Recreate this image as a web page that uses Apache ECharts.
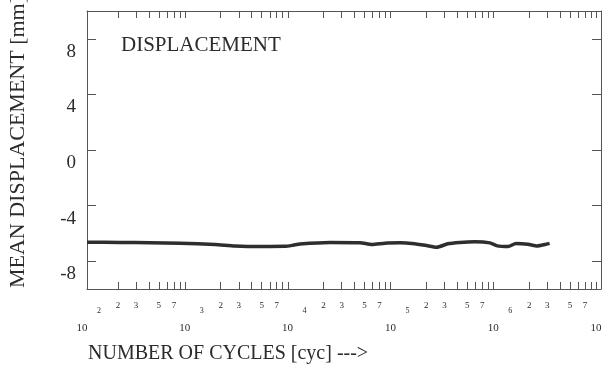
<!DOCTYPE html>
<html>
<head>
<meta charset="utf-8">
<script src="https://cdn.jsdelivr.net/npm/echarts@6/dist/echarts.min.js"></script>
<style>html,body{margin:0;padding:0;background:#fff;}#c{width:610px;height:368px;}</style>
</head>
<body>
<div id="c"></div>
<script>
// ---- data ----
const decadeExponents = [2, 3, 4, 5, 6, 7];
const minorTickDigits = [2, 3, 4, 5, 6, 7, 8, 9];
const minorLabelDigits = [2, 3, 5, 7];
const yTicks = [-8, -4, 0, 4, 8];
const cycles = [100, 209, 410, 803, 1758, 2755, 4819, 8433, 10100, 11800, 23100, 45300, 59200, 79200, 111000, 145000, 195000, 252000, 323000, 423000, 590000, 830000, 979000, 1250000, 1490000, 1950000, 2400000, 2850000, 3160000];
const meanDisp = [-6.64, -6.65, -6.67, -6.70, -6.80, -6.90, -6.94, -6.93, -6.85, -6.76, -6.65, -6.67, -6.80, -6.70, -6.68, -6.72, -6.85, -7.00, -6.75, -6.65, -6.60, -6.68, -6.90, -6.95, -6.72, -6.78, -6.90, -6.80, -6.72];
const yName = 'MEAN DISPLACEMENT [mm]';
const xName = 'NUMBER OF CYCLES [cyc] --->';
const innerTitle = 'DISPLACEMENT';

// ---- tick / label positions in exponent space ----
const tickVals = [];
decadeExponents.forEach(e => { if (e < 7) minorTickDigits.forEach(d => tickVals.push(e + Math.log10(d))); });
const labelVals = [], labelTexts = [];
decadeExponents.forEach(e => {
  labelVals.push(e);
  // the last decade's exponent falls outside the picture in the reference
  labelTexts.push(e < 7 ? '{e|' + e + '}\n{t|10}' : '{e7| }\n{t|10}');
  if (e < 7) minorLabelDigits.forEach(d => { labelVals.push(e + Math.log10(d)); labelTexts.push('{m|' + d + '}'); });
});
function labelFor(v) {
  let best = 0, bd = Infinity;
  labelVals.forEach((lv, j) => { const dd = Math.abs(lv - v); if (dd < bd) { bd = dd; best = j; } });
  return labelTexts[best];
}

const serif = 'Liberation Serif';
const ink = '#2b2b2b';
const axisCol = '#555';

const chart = echarts.init(document.getElementById('c'));
chart.setOption({
  animation: false,
  backgroundColor: '#fff',
  title: [
    { text: innerTitle, left: 116, top: 30, textStyle: { fontFamily: serif, fontSize: 21, fontWeight: 'normal', color: ink } },
    { text: xName, left: 83, top: 339, textStyle: { fontFamily: serif, fontSize: 20, fontWeight: 'normal', color: ink } }
  ],
  grid: { left: 87, right: 9, top: 11, bottom: 79, containLabel: false, outerBoundsMode: 'none' },
  xAxis: [
    { type: 'log', logBase: 10, min: 100, max: 1e7, show: false },
    {
      type: 'value', min: 2, max: 7, position: 'bottom',
      axisLine: { show: true, onZero: false, lineStyle: { color: axisCol, width: 1 } },
      axisTick: { show: true, inside: true, length: 7, customValues: tickVals, lineStyle: { color: axisCol } },
      splitLine: { show: false },
      axisLabel: {
        show: true, customValues: labelVals, margin: 11, hideOverlap: false,
        showMinLabel: true, showMaxLabel: true,
        formatter: (v) => labelFor(v),
        rich: {
          m: { fontFamily: serif, fontSize: 9, lineHeight: 12, color: ink },
          e: { fontFamily: serif, fontSize: 8, lineHeight: 22, color: ink, padding: [0, 0, 0, 24] },
          e7: { fontFamily: serif, fontSize: 8, lineHeight: 22, color: ink },
          t: { fontFamily: serif, fontSize: 11, lineHeight: 12, color: ink, padding: [0, 10, 0, 0] }
        }
      }
    },
    {
      type: 'value', min: 2, max: 7, position: 'top',
      axisLine: { show: true, onZero: false, lineStyle: { color: axisCol, width: 1 } },
      axisTick: { show: true, inside: true, length: 7, customValues: tickVals, lineStyle: { color: axisCol } },
      splitLine: { show: false },
      axisLabel: { show: false }
    }
  ],
  yAxis: [
    {
      type: 'value', min: -10, max: 10, position: 'left',
      name: yName, nameLocation: 'middle', nameGap: 58, nameRotate: 90,
      nameTextStyle: { fontFamily: serif, fontSize: 22, color: ink, padding: [0, 0, 0, 16] },
      axisLine: { show: true, onZero: false, lineStyle: { color: axisCol, width: 1 } },
      axisTick: { show: true, inside: true, length: 9, customValues: yTicks, lineStyle: { color: axisCol } },
      splitLine: { show: false },
      axisLabel: { customValues: yTicks, margin: 11, fontFamily: serif, fontSize: 19, color: ink, verticalAlign: 'top', lineHeight: 26 }
    },
    {
      type: 'value', min: -10, max: 10, position: 'right',
      axisLine: { show: true, onZero: false, lineStyle: { color: axisCol, width: 1 } },
      axisTick: { show: true, inside: true, length: 9, customValues: yTicks, lineStyle: { color: axisCol } },
      splitLine: { show: false },
      axisLabel: { show: false }
    }
  ],
  series: [{
    type: 'line', xAxisIndex: 0, yAxisIndex: 0,
    data: cycles.map((c, i) => [c, meanDisp[i]]),
    showSymbol: false, smooth: 0.2,
    lineStyle: { color: '#2e2e2e', width: 3.5 }
  }]
});
</script>
</body>
</html>
